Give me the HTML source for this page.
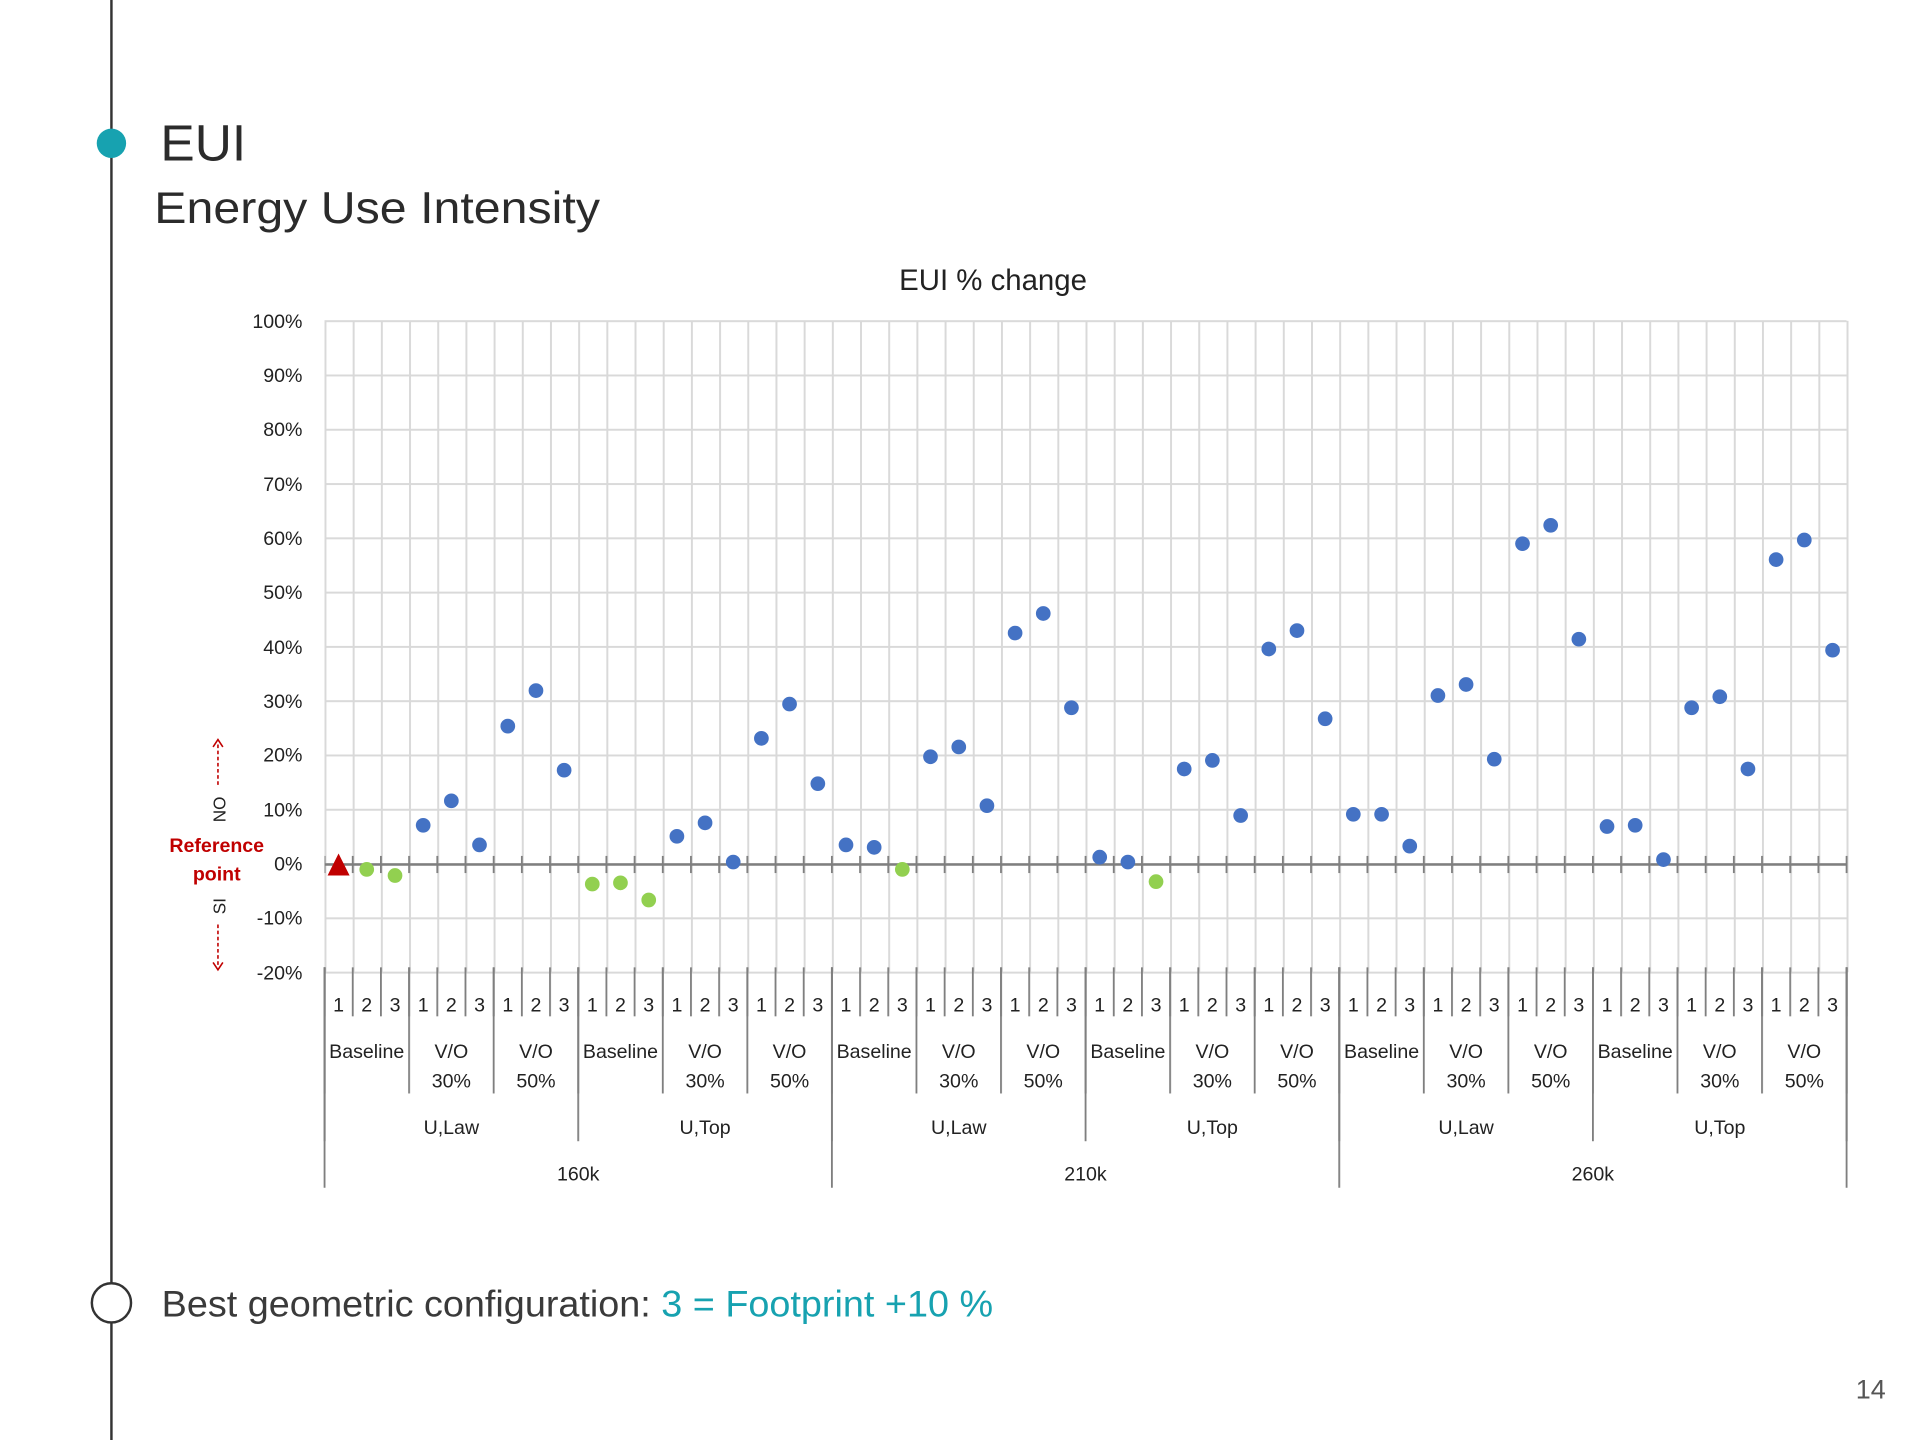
<!DOCTYPE html>
<html><head><meta charset="utf-8"><style>
html,body{margin:0;padding:0;background:#fff}
svg{display:block}
text{font-family:"Liberation Sans",sans-serif}
</style></head><body>
<svg width="1920" height="1440" viewBox="0 0 1568 1176" xmlns="http://www.w3.org/2000/svg">
<defs>
<pattern id="vg" x="265" y="0" width="23.0185" height="10" patternUnits="userSpaceOnUse"><rect x="0" y="0" width="1.6" height="10" fill="#d9d9d9"/></pattern>
<pattern id="hg" x="0" y="261.5" width="10" height="44.333" patternUnits="userSpaceOnUse"><rect x="0" y="0" width="10" height="1.6" fill="#d9d9d9"/></pattern>
<pattern id="s1" x="264.3" y="0" width="23.0185" height="10" patternUnits="userSpaceOnUse"><rect x="0" y="0" width="1.5" height="10" fill="#7f7f7f"/></pattern>
<pattern id="s2" x="264.3" y="0" width="69.0555" height="10" patternUnits="userSpaceOnUse"><rect x="0" y="0" width="1.5" height="10" fill="#7f7f7f"/></pattern>
<pattern id="s3" x="264.3" y="0" width="207.1667" height="10" patternUnits="userSpaceOnUse"><rect x="0" y="0" width="1.5" height="10" fill="#7f7f7f"/></pattern>
<pattern id="s4" x="264.3" y="0" width="414.333" height="10" patternUnits="userSpaceOnUse"><rect x="0" y="0" width="1.5" height="10" fill="#7f7f7f"/></pattern>
</defs>
<line x1="91" y1="0" x2="91" y2="1176" stroke="#333" stroke-width="2"/>
<circle cx="91" cy="117" r="12" fill="#17a2b0"/>
<text x="131" y="131" font-size="42" fill="#2b2b2b">EUI</text>
<text x="126" y="182" font-size="36" fill="#2b2b2b" textLength="364" lengthAdjust="spacingAndGlyphs">Energy Use Intensity</text>
<text x="811" y="237" font-size="24" fill="#222" text-anchor="middle">EUI % change</text>
<rect x="265" y="262" width="1245" height="532" fill="url(#vg)"/>
<rect x="265" y="261" width="1243" height="535" fill="url(#hg)"/>
<g font-size="16" fill="#222" text-anchor="end">
<text x="247" y="268">100%</text><text x="247" y="312">90%</text><text x="247" y="356">80%</text><text x="247" y="401">70%</text><text x="247" y="445">60%</text><text x="247" y="489">50%</text><text x="247" y="534">40%</text><text x="247" y="578">30%</text><text x="247" y="622">20%</text><text x="247" y="667">10%</text><text x="247" y="711">0%</text><text x="247" y="755">-10%</text><text x="247" y="800">-20%</text>
</g>
<rect x="265" y="699" width="1245" height="14" fill="url(#s1)"/>
<line x1="265" y1="706" x2="1508" y2="706" stroke="#7f7f7f" stroke-width="2"/>
<rect x="264" y="790" width="1246" height="40" fill="url(#s1)"/>
<rect x="264" y="790" width="1246" height="103" fill="url(#s2)"/>
<rect x="264" y="790" width="1246" height="142" fill="url(#s3)"/>
<rect x="264" y="790" width="1246" height="180" fill="url(#s4)"/>
<text font-size="16" fill="#222" text-anchor="middle" y="826" x="276.5 299.5 322.6 345.6 368.6 391.6 414.7 437.7 460.7 483.7 506.7 529.8 552.8 575.8 598.8 621.8 644.8 667.9 690.9 713.9 736.9 759.9 783.0 806.0 829.0 852.0 875.0 898.1 921.1 944.1 967.1 990.1 1013.2 1036.2 1059.2 1082.2 1105.2 1128.3 1151.3 1174.3 1197.3 1220.3 1243.4 1266.4 1289.4 1312.4 1335.4 1358.5 1381.5 1404.5 1427.5 1450.5 1473.5 1496.6">123123123123123123123123123123123123123123123123123123</text>
<g font-size="16" fill="#222" text-anchor="middle">
<text x="299.5" y="864">Baseline</text><text x="506.7" y="864">Baseline</text><text x="713.9" y="864">Baseline</text><text x="921.1" y="864">Baseline</text><text x="1128.3" y="864">Baseline</text><text x="1335.4" y="864">Baseline</text>
<text x="368.6" y="864">V/O</text><text x="437.7" y="864">V/O</text><text x="575.8" y="864">V/O</text><text x="644.8" y="864">V/O</text><text x="783" y="864">V/O</text><text x="852" y="864">V/O</text><text x="990.1" y="864">V/O</text><text x="1059.2" y="864">V/O</text><text x="1197.3" y="864">V/O</text><text x="1266.4" y="864">V/O</text><text x="1404.5" y="864">V/O</text><text x="1473.5" y="864">V/O</text>
<text x="368.6" y="888">30%</text><text x="437.7" y="888">50%</text><text x="575.8" y="888">30%</text><text x="644.8" y="888">50%</text><text x="783" y="888">30%</text><text x="852" y="888">50%</text><text x="990.1" y="888">30%</text><text x="1059.2" y="888">50%</text><text x="1197.3" y="888">30%</text><text x="1266.4" y="888">50%</text><text x="1404.5" y="888">30%</text><text x="1473.5" y="888">50%</text>
<text x="368.6" y="926">U,Law</text><text x="575.8" y="926">U,Top</text><text x="783" y="926">U,Law</text><text x="990.1" y="926">U,Top</text><text x="1197.3" y="926">U,Law</text><text x="1404.5" y="926">U,Top</text>
<text x="472.2" y="964">160k</text><text x="886.5" y="964">210k</text><text x="1300.8" y="964">260k</text>
</g>
<polygon points="276.5,697 267.5,715 285.5,715" fill="#c00000"/>
<g fill="#92d050">
<circle cx="299.5" cy="710" r="6"/><circle cx="322.6" cy="715" r="6"/>
<circle cx="483.7" cy="722" r="6"/><circle cx="506.7" cy="721" r="6"/><circle cx="529.8" cy="735" r="6"/>
<circle cx="736.9" cy="710" r="6"/><circle cx="944.1" cy="720" r="6"/>
</g>
<g fill="#4472c4">
<circle cx="345.6" cy="674" r="6"/><circle cx="368.6" cy="654" r="6"/><circle cx="391.6" cy="690" r="6"/><circle cx="414.7" cy="593" r="6"/><circle cx="437.7" cy="564" r="6"/><circle cx="460.7" cy="629" r="6"/>
<circle cx="552.8" cy="683" r="6"/><circle cx="575.8" cy="672" r="6"/><circle cx="598.8" cy="704" r="6"/><circle cx="621.8" cy="603" r="6"/><circle cx="644.8" cy="575" r="6"/><circle cx="667.9" cy="640" r="6"/>
<circle cx="690.9" cy="690" r="6"/><circle cx="713.9" cy="692" r="6"/><circle cx="759.9" cy="618" r="6"/><circle cx="783" cy="610" r="6"/><circle cx="806" cy="658" r="6"/><circle cx="829" cy="517" r="6"/><circle cx="852" cy="501" r="6"/><circle cx="875" cy="578" r="6"/>
<circle cx="898.1" cy="700" r="6"/><circle cx="921.1" cy="704" r="6"/><circle cx="967.1" cy="628" r="6"/><circle cx="990.1" cy="621" r="6"/><circle cx="1013.2" cy="666" r="6"/><circle cx="1036.2" cy="530" r="6"/><circle cx="1059.2" cy="515" r="6"/><circle cx="1082.2" cy="587" r="6"/>
<circle cx="1105.2" cy="665" r="6"/><circle cx="1128.3" cy="665" r="6"/><circle cx="1151.3" cy="691" r="6"/><circle cx="1174.3" cy="568" r="6"/><circle cx="1197.3" cy="559" r="6"/><circle cx="1220.3" cy="620" r="6"/><circle cx="1243.4" cy="444" r="6"/><circle cx="1266.4" cy="429" r="6"/><circle cx="1289.4" cy="522" r="6"/>
<circle cx="1312.4" cy="675" r="6"/><circle cx="1335.4" cy="674" r="6"/><circle cx="1358.5" cy="702" r="6"/><circle cx="1381.5" cy="578" r="6"/><circle cx="1404.5" cy="569" r="6"/><circle cx="1427.5" cy="628" r="6"/><circle cx="1450.5" cy="457" r="6"/><circle cx="1473.5" cy="441" r="6"/><circle cx="1496.6" cy="531" r="6"/>
</g>
<text x="177" y="696" font-size="16" font-weight="bold" fill="#c00000" text-anchor="middle">Reference</text>
<text x="177" y="719" font-size="16" font-weight="bold" fill="#c00000" text-anchor="middle">point</text>
<text transform="translate(184,661) rotate(-90)" font-size="14" fill="#222" text-anchor="middle">NO</text>
<text transform="translate(184,740) rotate(-90)" font-size="14" fill="#222" text-anchor="middle">SI</text>
<g stroke="#c00000" stroke-width="1.3" fill="none">
<line x1="178" y1="641" x2="178" y2="606" stroke-dasharray="3,2"/><polyline points="174,610 178,604 182,610"/>
<line x1="178" y1="755" x2="178" y2="790" stroke-dasharray="3,2"/><polyline points="174,786 178,792 182,786"/>
</g>
<circle cx="91" cy="1064" r="16" fill="#fff" stroke="#333" stroke-width="2"/>
<text x="132" y="1075" font-size="30" fill="#3a3a3a" textLength="679" lengthAdjust="spacingAndGlyphs">Best geometric configuration: <tspan fill="#17a2b0">3 = Footprint +10 %</tspan></text>
<text x="1540" y="1142" font-size="22" fill="#555" text-anchor="end">14</text>
</svg>
</body></html>
